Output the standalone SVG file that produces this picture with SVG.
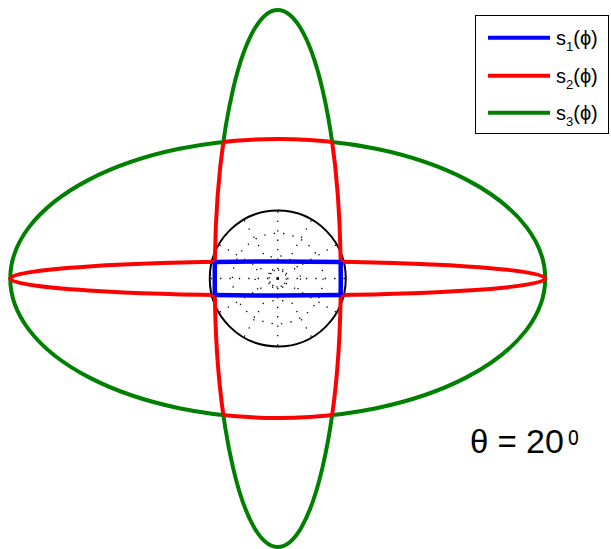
<svg xmlns="http://www.w3.org/2000/svg" width="611" height="549" viewBox="0 0 611 549">
<style>
.grid{fill:none;stroke:#000;stroke-width:1.3;stroke-dasharray:1.3 8.1}
.s1{fill:none;stroke:#0000ff;stroke-width:4.5}
.s2{fill:none;stroke:#ff0000;stroke-width:4}
.s3{fill:none;stroke:#008000;stroke-width:4}
.txt{font-family:"Liberation Sans",Arial,sans-serif;fill:#000}
</style>
<defs>
<clipPath id="inT"><path d="M214.75,278.5 a63,268.5 0 1,0 126,0 a63,268.5 0 1,0 -126,0 Z"/></clipPath>
<clipPath id="outT"><path clip-rule="evenodd" d="M-10,-10H621V559H-10Z M214.75,278.5 a63,268.5 0 1,0 126,0 a63,268.5 0 1,0 -126,0 Z"/></clipPath>
<clipPath id="inW"><path d="M10.25,278.5 a267.5,139.5 0 1,0 535,0 a267.5,139.5 0 1,0 -535,0 Z"/></clipPath>
<clipPath id="outW"><path clip-rule="evenodd" d="M-10,-10H621V559H-10Z M10.25,278.5 a267.5,139.5 0 1,0 535,0 a267.5,139.5 0 1,0 -535,0 Z"/></clipPath>
<clipPath id="inH"><path d="M10.25,278.5 a267.5,17 0 1,0 535,0 a267.5,17 0 1,0 -535,0 Z"/></clipPath>
<clipPath id="outH"><path clip-rule="evenodd" d="M-10,-10H621V559H-10Z M10.25,278.5 a267.5,17 0 1,0 535,0 a267.5,17 0 1,0 -535,0 Z"/></clipPath>
<ellipse id="eW" cx="277.75" cy="278.5" rx="267.5" ry="139.5"/>
<ellipse id="eT" cx="277.75" cy="278.5" rx="63" ry="268.5"/>
<ellipse id="eH" cx="277.75" cy="278.5" rx="267.5" ry="17"/>
</defs>
<rect width="611" height="549" fill="#fff"/>
<g id="grid">
<g class="grid">
<line x1="277.75" y1="278.5" x2="345.75" y2="278.5"/>
<line x1="277.75" y1="278.5" x2="336.64" y2="244.5"/>
<line x1="277.75" y1="278.5" x2="311.75" y2="219.61"/>
<line x1="277.75" y1="278.5" x2="277.75" y2="210.5"/>
<line x1="277.75" y1="278.5" x2="243.75" y2="219.61"/>
<line x1="277.75" y1="278.5" x2="218.86" y2="244.5"/>
<line x1="277.75" y1="278.5" x2="209.75" y2="278.5"/>
<line x1="277.75" y1="278.5" x2="218.86" y2="312.5"/>
<line x1="277.75" y1="278.5" x2="243.75" y2="337.39"/>
<line x1="277.75" y1="278.5" x2="277.75" y2="346.5"/>
<line x1="277.75" y1="278.5" x2="311.75" y2="337.39"/>
<line x1="277.75" y1="278.5" x2="336.64" y2="312.5"/>
<circle cx="277.75" cy="278.5" r="8.5" style="stroke-dasharray:1.3 3.15"/>
<circle cx="277.75" cy="278.5" r="22.7" style="stroke-dasharray:1.3 8.6"/>
<circle cx="277.75" cy="278.5" r="45.3" style="stroke-dasharray:1.3 8.2"/>
</g>
<circle cx="277.75" cy="278.5" r="68" fill="none" stroke="#000" stroke-width="2"/>
</g>
<g id="s3">
<use href="#eW" class="s3" clip-path="url(#outT)"/>
<use href="#eT" class="s3" clip-path="url(#outW)"/>
</g>
<g id="s2">
<use href="#eW" class="s2" clip-path="url(#inT)"/>
<g clip-path="url(#inW)"><use href="#eT" class="s2" clip-path="url(#outH)"/></g>
<use href="#eH" class="s2" clip-path="url(#outT)"/>
</g>
<g id="s1">
<use href="#eT" class="s1" clip-path="url(#inH)"/>
<use href="#eH" class="s1" clip-path="url(#inT)"/>
</g>
<g id="legend">
<rect x="475.5" y="15.5" width="133" height="118" fill="#fff" stroke="#000" stroke-width="1"/>
<line x1="488" y1="37.7" x2="550" y2="37.7" class="s1" style="stroke-width:4"/>
<line x1="488" y1="75.7" x2="550" y2="75.7" class="s2"/>
<line x1="488" y1="112.7" x2="550" y2="112.7" class="s3"/>
<text class="txt" x="556" y="45" font-size="20">s<tspan font-size="13" dy="6">1</tspan><tspan dy="-6">(ϕ)</tspan></text>
<text class="txt" x="556" y="83" font-size="20">s<tspan font-size="13" dy="6">2</tspan><tspan dy="-6">(ϕ)</tspan></text>
<text class="txt" x="556" y="120" font-size="20">s<tspan font-size="13" dy="6">3</tspan><tspan dy="-6">(ϕ)</tspan></text>
</g>
<g id="label">
<text class="txt" y="453" font-size="33"><tspan x="470">θ</tspan><tspan x="497.5">=</tspan><tspan x="526" font-size="34">20</tspan></text>
<text class="txt" font-size="27" transform="translate(568,445) scale(0.72,1.05)">o</text>
</g>
</svg>
